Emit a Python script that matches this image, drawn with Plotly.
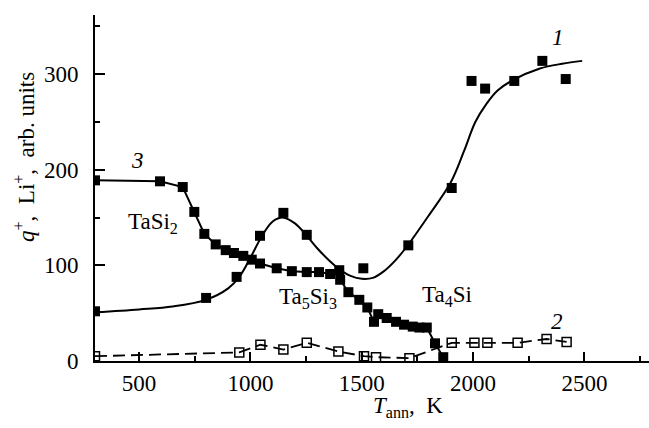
import plotly.graph_objects as go

# Series 1 (filled squares, smooth fit curve)
s1_x = [302, 801, 938, 1043, 1148, 1253, 1507, 1709, 1904, 1993, 2054, 2185, 2311, 2416]
s1_y = [52, 66, 88, 131, 155, 132, 97, 121, 181, 293, 285, 293, 314, 295]
# fitted curve for series 1
c1_x = [302, 500, 650, 800, 900, 950, 1000, 1050, 1100, 1150, 1200, 1250, 1300, 1350, 1400,
        1450, 1500, 1550, 1600, 1650, 1700, 1800, 1900, 1960, 2010, 2060, 2110, 2180, 2300, 2400, 2490]
c1_y = [51, 54, 57, 64, 76, 88, 108, 130, 146, 150, 144, 132, 118, 106, 96,
        89, 86, 87, 94, 105, 119, 152, 187, 220, 250, 269, 283, 294, 306, 311, 314]

# Series 2 (open squares, dashed)
s2_x = [302, 950, 1045, 1148, 1253, 1395, 1510, 1564, 1714, 1904, 2006, 2064, 2200, 2330, 2420]
s2_y = [5, 9, 17, 12, 19, 10, 5, 4, 3, 19, 19, 19, 19, 23, 20]

# Series 3 (filled squares, connected)
s3_x = [302, 594, 696, 748, 793, 844, 889, 926, 968, 1006, 1043, 1118, 1186, 1253, 1308, 1358,
        1399, 1403, 1440, 1489, 1525, 1555, 1574, 1612, 1654, 1690, 1729, 1759, 1792, 1829, 1866]
s3_y = [189, 188, 182, 156, 133, 122, 116, 113, 110, 106, 102, 97, 94, 93, 93, 91,
        95, 85, 72, 64, 56, 41, 49, 45, 41, 38, 36, 35, 35, 18.5, 4]

FONT = "Liberation Serif, Times New Roman, serif"
FS = 23
BLACK = "#000000"

fig = go.Figure()
fig.add_trace(go.Scatter(x=c1_x, y=c1_y, mode="lines", line=dict(color=BLACK, width=2, shape="spline", smoothing=1.0),
                         showlegend=False, hoverinfo="skip"))
fig.add_trace(go.Scatter(x=s1_x, y=s1_y, mode="markers",
                         marker=dict(symbol="square", size=10, color=BLACK), showlegend=False))
fig.add_trace(go.Scatter(x=s2_x, y=s2_y, mode="lines+markers",
                         line=dict(color=BLACK, width=1.8, dash="12px,6px"),
                         marker=dict(symbol="square-open", size=9, color=BLACK, line=dict(width=1.5)),
                         showlegend=False))
fig.add_trace(go.Scatter(x=s3_x, y=s3_y, mode="lines+markers",
                         line=dict(color=BLACK, width=2),
                         marker=dict(symbol="square", size=10, color=BLACK), showlegend=False))

labels = [
    (2381, 338, "<i>1</i>"),
    (491, 210, "<i>3</i>"),
    (2377, 41, "<i>2</i>"),
    (563, 144, "TaSi<sub>2</sub>"),
    (1259, 66, "Ta<sub>5</sub>Si<sub>3</sub>"),
    (1883, 68, "Ta<sub>4</sub>Si"),
]
for lx, ly, lt in labels:
    fig.add_annotation(x=lx, y=ly, text=lt, showarrow=False, xanchor="center", yanchor="middle",
                       font=dict(family=FONT, size=FS, color=BLACK))

fig.add_annotation(xref="paper", yref="paper", x=(408 - 95) / 554, y=-(407 - 361) / 346,
                   text="<i>T</i><sub>ann</sub>,  K", showarrow=False, xanchor="center", yanchor="middle",
                   font=dict(family=FONT, size=FS, color=BLACK))
fig.add_annotation(xref="paper", yref="paper", x=-(95 - 24) / 554, y=(361 - 157) / 346,
                   text="<i>q</i><sup>+</sup>,  Li<sup>+</sup>,  arb. units", showarrow=False,
                   textangle=-90, xanchor="center", yanchor="middle",
                   font=dict(family=FONT, size=FS, color=BLACK))

fig.update_layout(
    width=649, height=428, margin=dict(l=95, r=0, t=15, b=67),
    paper_bgcolor="white", plot_bgcolor="white",
    font=dict(family=FONT, size=FS, color=BLACK),
)
fig.update_xaxes(range=[302, 2790], showgrid=False, zeroline=False, showline=True, linecolor=BLACK, linewidth=2,
                 ticks="inside", ticklen=9, tickwidth=2, tickcolor=BLACK,
                 tickvals=[500, 1000, 1500, 2000, 2500],
                 minor=dict(tickvals=[750, 1250, 1750, 2250, 2750], ticks="inside", ticklen=5, tickwidth=2, tickcolor=BLACK),
                 tickfont=dict(family=FONT, size=FS, color=BLACK))
fig.update_yaxes(range=[0, 362], showgrid=False, zeroline=False, showline=True, linecolor=BLACK, linewidth=2,
                 ticks="inside", ticklen=10, tickwidth=2, tickcolor=BLACK,
                 tickvals=[0, 100, 200, 300],
                 minor=dict(tickvals=[50, 150, 250, 350], ticks="inside", ticklen=5, tickwidth=2, tickcolor=BLACK),
                 tickfont=dict(family=FONT, size=FS, color=BLACK), ticklabelstandoff=10)

fig.write_html("out.html")
